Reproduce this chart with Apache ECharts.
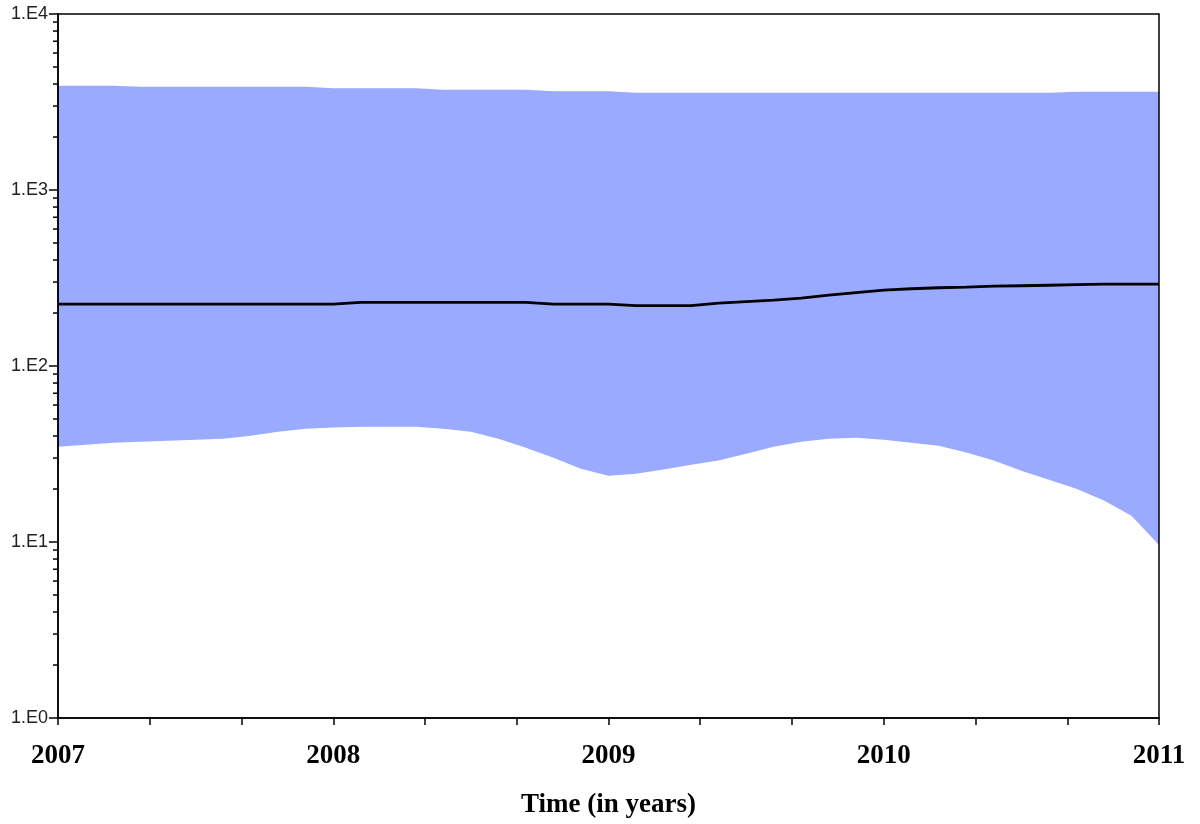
<!DOCTYPE html>
<html>
<head>
<meta charset="utf-8">
<script src="https://cdn.jsdelivr.net/npm/echarts@6/dist/echarts.min.js"></script>
<style>
  html, body { margin: 0; padding: 0; background: #fff; }
  #main { width: 1200px; height: 824px; }
</style>
</head>
<body>
<div id="main"></div>
<script>
// time points (years), every 0.1 year
const years = [
  2007.0, 2007.1, 2007.2, 2007.3, 2007.4, 2007.5, 2007.6, 2007.7, 2007.8, 2007.9,
  2008.0, 2008.1, 2008.2, 2008.3, 2008.4, 2008.5, 2008.6, 2008.7, 2008.8, 2008.9,
  2009.0, 2009.1, 2009.2, 2009.3, 2009.4, 2009.5, 2009.6, 2009.7, 2009.8, 2009.9,
  2010.0, 2010.1, 2010.2, 2010.3, 2010.4, 2010.5, 2010.6, 2010.7, 2010.8, 2010.9,
  2011.0
]
// upper 95% HPD
const upper = [
  3910, 3910, 3910, 3860, 3860, 3860, 3860, 3860, 3860, 3860,
  3785, 3785, 3785, 3785, 3710, 3710, 3710, 3710, 3640, 3640,
  3640, 3570, 3570, 3570, 3570, 3570, 3570, 3570, 3570, 3570,
  3570, 3570, 3570, 3570, 3570, 3570, 3570, 3615, 3615, 3615,
  3615
]
// median
const median = [
  224.5, 224.5, 224.5, 224.5, 224.5, 224.5, 224.5, 224.5, 224.5, 224.5,
  224.5, 229.6, 229.6, 229.6, 229.6, 229.6, 229.6, 229.6, 224.5, 224.5,
  224.5, 220.2, 220.2, 220.2, 227.5, 232.0, 236.5, 242.8, 252.5, 260.9,
  269.5, 274.8, 278.4, 280.3, 284.0, 285.8, 287.7, 289.6, 291.5, 291.5,
  291.5
]
// lower 95% HPD
const lower = [
  34.8, 35.7, 36.6, 37.1, 37.6, 38.1, 38.6, 40.1, 42.3, 44.0,
  44.8, 45.1, 45.1, 45.1, 44.0, 42.3, 38.6, 34.3, 30.1, 26.1,
  23.8, 24.4, 25.8, 27.5, 29.0, 31.7, 34.8, 37.1, 38.6, 39.1,
  38.1, 36.6, 35.2, 32.2, 29.0, 25.4, 22.6, 20.1, 17.2, 14.1,
  9.6
]
// minor ticks on log axis
const minorMults = [2, 3, 4, 5, 6, 7, 8, 9]
const decades = [1, 10, 100, 1000]

const minorTicks = []
decades.forEach(d => minorMults.forEach(m => minorTicks.push([2007, d * m])))

const zip = arr => years.map((y, i) => [y, arr[i]])

const mychart = echarts.init(document.getElementById('main'))
mychart.setOption({
  animation: false,
  backgroundColor: '#fff',
  grid: {
    left: 58,
    right: 41,
    top: 14,
    bottom: 104,
    show: true,
    z: 10,
    borderColor: '#000',
    borderWidth: 1.5,
    backgroundColor: 'transparent'
  },
  xAxis: {
    type: 'value',
    min: 2007,
    max: 2011,
    interval: 1,
    z: 10,
    splitLine: { show: false },
    axisLine: { lineStyle: { color: '#000', width: 1.5 } },
    axisTick: { length: 7, lineStyle: { color: '#000', width: 1.5 } },
    minorTick: { show: true, splitNumber: 3, length: 7, lineStyle: { color: '#000', width: 1.5 } },
    axisLabel: {
      color: '#000',
      fontFamily: 'Liberation Serif',
      fontWeight: 'bold',
      fontSize: 27,
      margin: 25,
      formatter: v => String(Math.round(v))
    },
    name: 'Time (in years)',
    nameLocation: 'middle',
    nameGap: 74,
    nameTextStyle: {
      color: '#000',
      fontFamily: 'Liberation Serif',
      fontWeight: 'bold',
      fontSize: 27
    }
  },
  yAxis: {
    type: 'log',
    logBase: 10,
    min: 1,
    max: 10000,
    z: 10,
    splitLine: { show: false },
    axisLine: { show: true, lineStyle: { color: '#000', width: 1.5 } },
    axisTick: { show: true, length: 9, lineStyle: { color: '#000', width: 1.5 } },
    axisLabel: {
      color: '#222',
      fontFamily: 'Liberation Sans',
      fontSize: 18,
      margin: 10,
      formatter: v => '1.E' + Math.round(Math.log10(v))
    }
  },
  series: [
    {
      type: 'line',
      data: zip(upper),
      symbol: 'none',
      lineStyle: { width: 0 },
      areaStyle: { color: '#99aaff', opacity: 1, origin: 'start' },
      z: 2
    },
    {
      type: 'line',
      data: zip(lower),
      symbol: 'none',
      lineStyle: { width: 0 },
      areaStyle: { color: '#ffffff', opacity: 1, origin: 'start' },
      z: 3
    },
    {
      type: 'line',
      data: zip(median),
      symbol: 'none',
      lineStyle: { color: '#000', width: 2.8 },
      z: 4
    },
    {
      type: 'custom',
      data: minorTicks,
      clip: false,
      silent: true,
      z: 5,
      renderItem: function (params, api) {
        const p = api.coord([api.value(0), api.value(1)])
        return {
          type: 'line',
          shape: { x1: p[0] - 5, y1: p[1], x2: p[0], y2: p[1] },
          style: { stroke: '#000', lineWidth: 1.5 }
        }
      }
    }
  ]
})
</script>
</body>
</html>
